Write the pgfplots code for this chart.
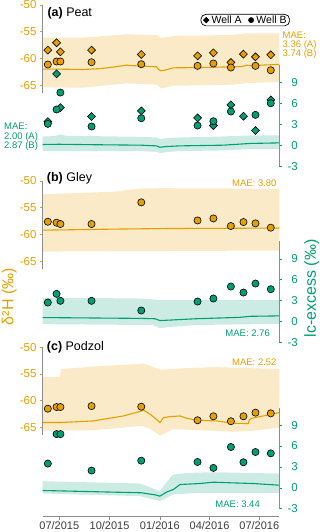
\documentclass[border=0pt]{standalone}
\usepackage{pgfplots}
\pgfplotsset{compat=1.18}
\usepackage{fontspec}
\setmainfont{Liberation Sans}
\definecolor{okorange}{RGB}{230,159,0}
\definecolor{okgreen}{RGB}{0,158,115}
\colorlet{oband}{okorange!22!white}
\colorlet{gband}{okgreen!20!white}
\definecolor{axgray}{RGB}{140,140,140}
\definecolor{txtgray}{RGB}{60,60,60}
\newcommand{\fs}[1]{\fontsize{#1}{#1}\selectfont}
\pgfplotsset{
  panel/.style={scale only axis, width=236.6pt, xmin=-30.4, xmax=402.6, clip=false,
    axis x line*=bottom, x axis line style={draw=none}, xtick=\empty, tick align=outside, major tick length=3pt},
  leftax/.style={panel, axis y line*=left, ymin=-80.85, ymax=-49.07,
    ytick={-65,-60,-55,-50}, yticklabels={-65,-60,-55,-50},
    y axis line style={draw=none},
    ytick style={okorange, line width=0.6pt},
    yticklabel style={font=\fs{11.5}, text=okorange, inner sep=0pt, anchor=east, xshift=-3pt}},
  rightax/.style={panel, axis y line*=right, ymin=-3.51, ymax=20.88,
    ytick={-3,0,3,6,9}, yticklabels={-3,0,3,6,9},
    y axis line style={draw=none},
    ytick style={okgreen, line width=0.6pt},
    yticklabel style={font=\fs{11.5}, text=okgreen, inner sep=0pt, anchor=east, xshift=15.7pt}},
  ptA/.style={only marks, mark=square*, mark size=2.8pt, mark options={rotate=45, draw=black, line width=0.6pt, fill=#1}},
  ptB/.style={only marks, mark=*, mark size=3.6pt, mark options={draw=black, line width=0.6pt, fill=#1}},
  oline/.style={okorange, line width=1.1pt, mark=none},
  gline/.style={okgreen, line width=1.1pt, mark=none},
}
\begin{document}
\begin{tikzpicture}
\useasboundingbox (0,0) rectangle (320pt,532pt);
% ================= Panel (a) =================
\begin{axis}[leftax, height=170pt, at={(42.7pt,532pt)}, anchor=north west]
\addplot[fill=oband, draw=none, forget plot] coordinates {(-30.4,-56.1) (44,-56.1) (123,-55.5) (178,-55.6) (186,-56.2) (209,-55.8) (318,-55.6) (343,-55.3) (402.6,-55.3) (402.6,-64.4) (343,-64.6) (318,-64.9) (209,-65.1) (186,-65.6) (178,-64.9) (123,-64.65) (44,-65.45) (-30.4,-65.4)};
\addplot[oline] coordinates {(-30.4,-62.0) (0,-62.0) (44,-62.06) (74,-61.9) (100,-61.6) (123,-61.25) (135,-61.35) (148,-61.4) (178,-61.56) (182,-62.1) (186,-62.3) (193,-62.2) (209,-61.75) (257,-61.7) (318,-61.56) (335,-61.5) (343,-61.25) (347,-61.3) (355,-61.4) (360,-61.3) (402.6,-61.1)};
\addplot[ptA=okorange] coordinates {(-21,-58.44) (-5,-57.07) (2,-58.76) (59,-58.44) (150,-59.25) (253,-59.51) (282,-58.95) (314,-60.75) (337,-59.19) (359,-59.7) (387,-59.32)};
\addplot[ptB=okorange] coordinates {(-21,-61.13) (-5,-60.57) (2,-60.57) (59,-60.7) (150,-61.07) (253,-61.38) (282,-60.94) (314,-61.69) (359,-61.38) (387,-62.2)};
\draw[axgray, line width=0.8pt] (axis cs:-30.4,-50) -- (axis cs:-30.4,-66.45);
\end{axis}
\begin{axis}[rightax, height=170pt, at={(42.7pt,532pt)}, anchor=north west,
  legend style={at={(1.045,0.9176)}, anchor=north east, legend columns=2, draw=black, line width=0.7pt,
    rounded corners=5pt, fill=white, font=\fs{10.5}, inner xsep=2pt, inner ysep=0.2pt,
    nodes={inner sep=1pt}, /tikz/every even column/.append style={column sep=5pt}},
  legend image code/.code={\path (-0.5pt,0pt) (6.5pt,0pt); \draw[#1] plot coordinates {(2.5pt,0pt)};}]
\addlegendimage{only marks, mark=square*, mark size=1.9pt, mark options={rotate=45, fill=black, draw=black}}
\addlegendentry{Well A}
\addlegendimage{only marks, mark=*, mark size=2.5pt, mark options={fill=black, draw=black}}
\addlegendentry{Well B}
\addplot[fill=gband, draw=none, forget plot] coordinates {(-30.4,1.3) (-8,1.35) (2,1.6) (12,1.4) (150,1.25) (178,1.15) (184,0.95) (195,1.05) (220,1.15) (300,1.3) (350,1.45) (402.6,1.45) (402.6,-0.48) (350,-0.5) (300,-0.7) (220,-0.8) (195,-0.95) (184,-1.1) (178,-0.9) (150,-0.8) (-30.4,-0.75)};
\addplot[gline, forget plot] coordinates {(-30.4,0.15) (0,0.18) (60,0.12) (150,0.05) (178,-0.05) (184,-0.25) (195,-0.15) (220,-0.05) (300,0.05) (350,0.3) (402.6,0.38)};
\addplot[ptA=okgreen, forget plot] coordinates {(-21,3.44) (-5,10.29) (2,5.45) (59,4.16) (150,4.97) (253,3.97) (282,2.87) (314,5.84) (337,4.21) (359,2.15) (387,6.55)};
\addplot[ptB=okgreen, forget plot] coordinates {(-21,3.11) (-5,5.17) (2,7.6) (59,2.73) (150,3.92) (253,2.87) (282,3.49) (314,4.88) (359,4.4) (387,6.07)};
\draw[axgray, line width=0.8pt] (axis cs:402.6,11.5) -- (axis cs:402.6,-3);
\end{axis}
% ================= Panel (b) =================
\begin{axis}[leftax, height=170pt, at={(42.7pt,356pt)}, anchor=north west]
\addplot[fill=oband, draw=none, forget plot] coordinates {(-30.4,-52.5) (100,-52.0) (150,-51.4) (184,-51.35) (300,-51.4) (402.6,-51.5) (402.6,-63.0) (184,-63.1) (-30.4,-63.2)};
\addplot[oline] coordinates {(-30.4,-59.2) (100,-59.0) (184,-58.9) (300,-58.85) (402.6,-58.8)};
\addplot[ptB=okorange] coordinates {(-21,-57.62) (-5,-57.8) (2,-58.05) (59,-58.05) (150,-54.0) (253,-57.38) (282,-57.0) (314,-58.42) (337,-57.68) (359,-57.93) (387,-58.73)};
\draw[axgray, line width=0.8pt] (axis cs:-30.4,-50) -- (axis cs:-30.4,-66.45);
\end{axis}
\begin{axis}[rightax, height=170pt, at={(42.7pt,356pt)}, anchor=north west]
\addplot[fill=gband, draw=none, forget plot] coordinates {(-30.4,3.44) (150,3.3) (184,3.1) (402.6,3.1) (402.6,-0.33) (250,-0.5) (200,-0.8) (184,-0.96) (170,-0.5) (-30.4,-0.38)};
\addplot[gline] coordinates {(-30.4,0.57) (150,0.45) (175,0.4) (184,0.14) (200,0.2) (250,0.4) (330,0.6) (350,0.75) (402.6,0.81)};
\addplot[ptB=okgreen] coordinates {(-21,2.73) (-5,3.97) (2,2.97) (59,2.97) (150,1.58) (253,2.87) (282,3.3) (314,5.02) (337,4.16) (359,5.45) (387,4.64)};
\draw[axgray, line width=0.8pt] (axis cs:402.6,11.5) -- (axis cs:402.6,-3);
\end{axis}
% ================= Panel (c) =================
\begin{axis}[leftax, height=174.4pt, ymin=-81.67, at={(42.7pt,189.7pt)}, anchor=north west,
  x axis line style={draw=axgray, line width=0.8pt, -},
  xtick={0,92,184,275,366}, xticklabels={07/2015,10/2015,01/2016,04/2016,07/2016},
  xtick style={axgray, line width=0.6pt},
  xticklabel style={font=\fs{11}, text=txtgray, inner sep=0pt, anchor=north, yshift=-2pt}]
\addplot[fill=oband, draw=none, forget plot] coordinates {(-30.4,-55.55) (1.3,-55.55) (3,-54.1) (62.3,-53.6) (150.8,-53.09) (153.9,-53.0) (184.3,-54.2) (233.1,-53.9) (281.9,-53.7) (402.6,-54.07) (402.6,-65.0) (355.1,-65.6) (318.5,-65.8) (257.5,-65.5) (208.7,-65.3) (184.3,-66.5) (166,-65.2) (150.8,-64.7) (62.3,-65.5) (-30.4,-65.6)};
\addplot[oline] coordinates {(-30.4,-64.07) (1.3,-64.07) (62.3,-63.77) (117.2,-62.84) (150.8,-61.91) (153.9,-61.73) (166,-62.5) (181.2,-63.77) (184.3,-64.07) (190.4,-63.15) (202.6,-62.96) (221,-62.84) (233.1,-63.27) (251.4,-63.64) (288,-63.77) (318.5,-64.2) (346,-64.26) (347.5,-63.6) (352.1,-63.27) (379.5,-62.7) (402.6,-62.2)};
\addplot[ptB=okorange] coordinates {(-21,-61.48) (-5,-61.17) (2,-61.17) (59,-60.99) (150,-61.11) (253,-63.64) (282,-62.9) (314,-63.83) (337,-62.9) (359,-62.22) (387,-62.35)};
\draw[axgray, line width=0.8pt] (axis cs:-30.4,-50) -- (axis cs:-30.4,-66.45);
\end{axis}
\begin{axis}[rightax, height=174.4pt, ymin=-4.14, at={(42.7pt,189.7pt)}, anchor=north west]
\addplot[fill=gband, draw=none, forget plot] coordinates {(-30.4,0.95) (147.7,0.62) (184,-0.48) (202.6,1.43) (208.7,1.9) (233.1,2.14) (281.9,2.24) (402.6,2.05) (402.6,-0.71) (257.5,-0.71) (208.7,-0.95) (184,-1.9) (147.7,-1.19) (-30.4,-0.81)};
\addplot[gline] coordinates {(-30.4,-0.38) (150,-0.71) (175,-1.0) (184,-1.19) (196.5,-0.6) (208.7,-0.24) (221,0.48) (257.5,0.62) (281.9,0.81) (318.5,0.71) (355.1,0.62) (402.6,0.38)};
\addplot[ptB=okgreen] coordinates {(-21,3.48) (-5,7.71) (2,7.71) (59,2.48) (150,3.9) (253,3.71) (282,2.86) (314,5.86) (337,3.67) (359,5.14) (387,4.95)};
\draw[axgray, line width=0.8pt] (axis cs:402.6,11.5) -- (axis cs:402.6,-3);
\end{axis}
% ================= Texts =================
\node[anchor=base west, inner sep=0pt, font=\fs{12.5}] at (47.3pt,515.5pt) {\textbf{(a)} Peat};
\node[anchor=base west, inner sep=0pt, font=\fs{12.5}] at (46.7pt,350pt) {\textbf{(b)} Gley};
\node[anchor=base west, inner sep=0pt, font=\fs{12.5}] at (46.7pt,181pt) {\textbf{(c)} Podzol};
\node[anchor=base west, inner sep=0pt, font=\fs{9.5}, text=okorange] at (282.5pt,493.7pt) {MAE:};
\node[anchor=base west, inner sep=0pt, font=\fs{9.5}, text=okorange] at (282.5pt,484.3pt) {3.36 (A)};
\node[anchor=base west, inner sep=0pt, font=\fs{9.5}, text=okorange] at (282.5pt,475pt) {3.74 (B)};
\node[anchor=base west, inner sep=0pt, font=\fs{9.5}, text=okgreen] at (4pt,402pt) {MAE:};
\node[anchor=base west, inner sep=0pt, font=\fs{9.5}, text=okgreen] at (4pt,392.5pt) {2.00 (A)};
\node[anchor=base west, inner sep=0pt, font=\fs{9.5}, text=okgreen] at (4pt,383pt) {2.87 (B)};
\node[anchor=base east, inner sep=0pt, font=\fs{9.5}, text=okorange] at (276.7pt,345.3pt) {MAE: 3.80};
\node[anchor=base east, inner sep=0pt, font=\fs{9.5}, text=okgreen] at (270pt,195.3pt) {MAE: 2.76};
\node[anchor=base east, inner sep=0pt, font=\fs{9.5}, text=okorange] at (276.7pt,166pt) {MAE: 2.52};
\node[anchor=base east, inner sep=0pt, font=\fs{9.5}, text=okgreen] at (260pt,24.7pt) {MAE: 3.44};
\node[rotate=90, inner sep=0pt, font=\fs{16}, text=okorange] at (9.3pt,235.3pt) {δ²H (‰)};
\node[rotate=90, inner sep=0pt, font=\fs{16}, text=okgreen] at (311.7pt,243.7pt) {lc-excess (‰)};
\end{tikzpicture}
\end{document}
